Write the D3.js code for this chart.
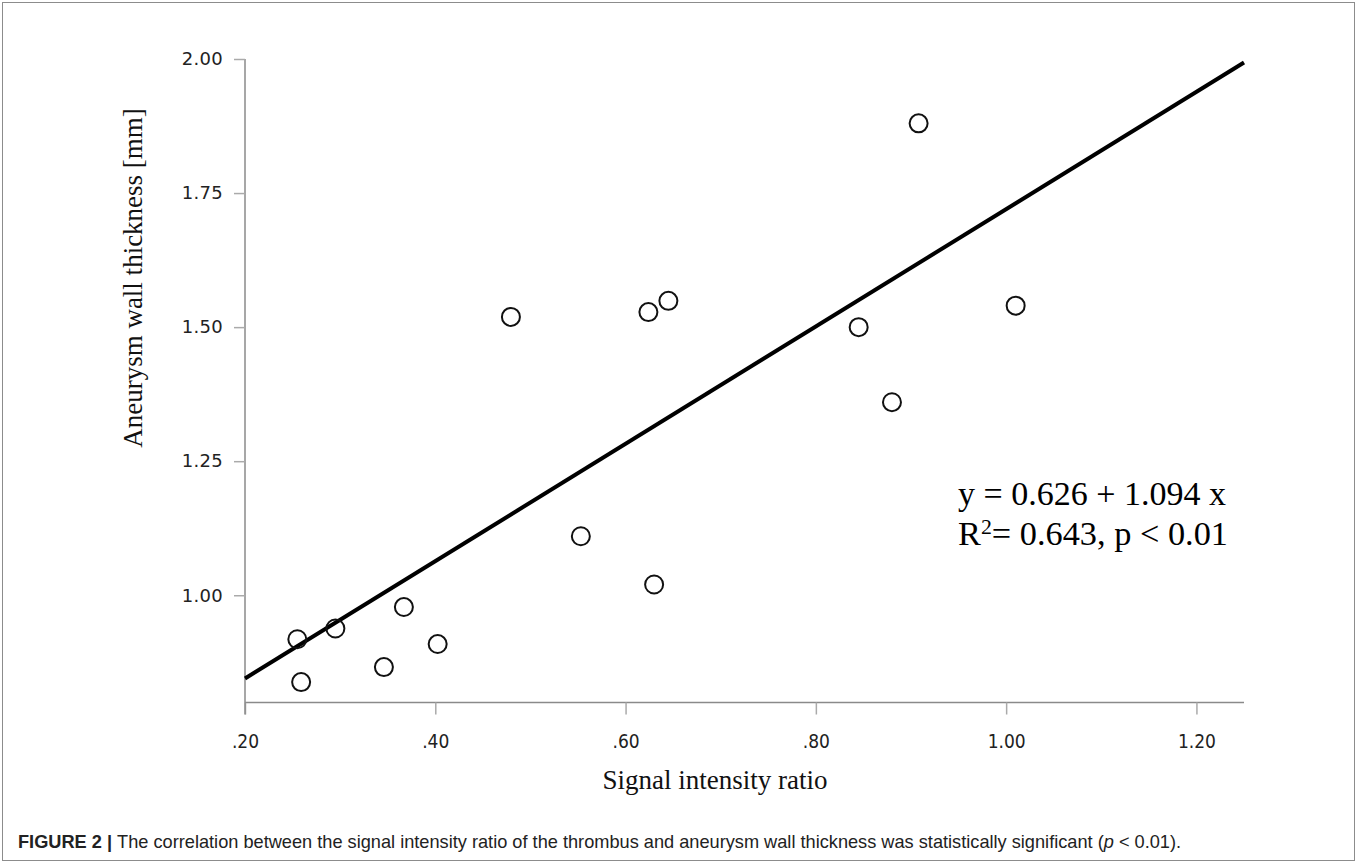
<!DOCTYPE html>
<html>
<head>
<meta charset="utf-8">
<script src="https://cdn.jsdelivr.net/npm/d3@7"></script>
<style>
  html, body { margin: 0; padding: 0; background: #fff; }
  svg { display: block; }
</style>
</head>
<body>
<svg id="fig" width="1358" height="866"></svg>
<script>
// Signal intensity ratio (x) vs aneurysm wall thickness in mm (y)
const signalRatio = [0.255, 0.259, 0.295, 0.346, 0.367, 0.4025, 0.4795, 0.553, 0.624, 0.630, 0.645, 0.845, 0.880, 0.908, 1.010];
const wallThickness = [0.918, 0.838, 0.938, 0.866, 0.978, 0.909, 1.519, 1.110, 1.528, 1.020, 1.549, 1.500, 1.360, 1.880, 1.540];

// Fitted regression: y = 0.626 + 1.094 x
const fitIntercept = 0.626;
const fitSlope = 1.094;

const xTicks = [0.2, 0.4, 0.6, 0.8, 1.0, 1.2];
const yTicks = [1.0, 1.25, 1.5, 1.75, 2.0];

const xTickFmt = v => (v < 1 ? d3.format(".2f")(v).replace(/^0/, "") : d3.format(".2f")(v));

const svg = d3.select("#fig");

// outer figure frame
svg.append("rect")
  .attr("x", 2.5).attr("y", 2.5)
  .attr("width", 1352).attr("height", 858)
  .attr("fill", "none").attr("stroke", "#8c8c8c").attr("stroke-width", 1);

const x = d3.scaleLinear().domain([0.2, 1.25]).range([245, 1244]);
const y = d3.scaleLinear().domain([0.8, 2.0]).range([702.5, 59]);

const axisColor = "#8a8a8a";

// x axis
const gx = svg.append("g")
  .attr("transform", `translate(0,${y(0.8)})`)
  .call(d3.axisBottom(x).tickValues(xTicks).tickFormat(xTickFmt).tickSize(12).tickPadding(20));
gx.select(".domain").attr("stroke", axisColor).attr("stroke-width", 1.5)
  .attr("d", `M${x(0.2)},0H${x(1.25)}`);
gx.selectAll(".tick line").attr("stroke", "#aaa").attr("stroke-width", 1.5);
gx.selectAll(".tick text")
  .attr("fill", "#222")
  .style("font-family", "'DejaVu Sans Condensed', 'DejaVu Sans', sans-serif")
  .style("font-stretch", "condensed")
  .style("font-size", "19px");

// y axis
const gy = svg.append("g")
  .attr("transform", `translate(${x(0.2)},0)`)
  .call(d3.axisLeft(y).tickValues(yTicks).tickFormat(d3.format(".2f")).tickSize(11).tickPadding(11));
gy.select(".domain").attr("stroke", axisColor).attr("stroke-width", 1.5)
  .attr("d", `M0,${y(0.8) + 12}V${y(2.0)}`);
gy.selectAll(".tick line").attr("stroke", "#aaa").attr("stroke-width", 1.5);
gy.selectAll(".tick text")
  .attr("fill", "#222")
  .style("font-family", "'DejaVu Sans', sans-serif")
  .style("font-size", "18px")
  .style("letter-spacing", "0.3px");

// regression line across the x range
const fitLine = d3.line().x(d => x(d)).y(d => y(fitIntercept + fitSlope * d));
svg.append("path")
  .datum([0.2, 1.25])
  .attr("d", fitLine)
  .attr("fill", "none")
  .attr("stroke", "#000")
  .attr("stroke-width", 4);

// observations as open circles
svg.append("g")
  .selectAll("circle")
  .data(signalRatio.map((v, i) => [v, wallThickness[i]]))
  .join("circle")
  .attr("cx", d => x(d[0]))
  .attr("cy", d => y(d[1]))
  .attr("r", 9)
  .attr("fill", "none")
  .attr("stroke", "#111")
  .attr("stroke-width", 2);

// axis titles
svg.append("text")
  .attr("x", 715).attr("y", 789)
  .attr("text-anchor", "middle")
  .style("font-family", "'Liberation Serif', 'Times New Roman', serif")
  .style("font-size", "27px")
  .attr("fill", "#111")
  .text("Signal intensity ratio");

svg.append("text")
  .attr("transform", "translate(142,278) rotate(-90)")
  .attr("text-anchor", "middle")
  .style("font-family", "'Liberation Serif', 'Times New Roman', serif")
  .style("font-size", "27px")
  .attr("fill", "#111")
  .text("Aneurysm wall thickness [mm]");

// regression annotation
const ann = svg.append("g")
  .style("font-family", "'Liberation Serif', 'Times New Roman', serif")
  .style("font-size", "33px")
  .attr("fill", "#000");
ann.append("text").attr("x", 958).attr("y", 505)
  .attr("textLength", 268).attr("lengthAdjust", "spacingAndGlyphs")
  .text("y = 0.626 + 1.094 x");
const r2 = ann.append("text").attr("x", 958).attr("y", 545)
  .attr("textLength", 270).attr("lengthAdjust", "spacingAndGlyphs");
r2.append("tspan").text("R");
r2.append("tspan").attr("dy", -11).style("font-size", "21px").text("2");
r2.append("tspan").attr("dy", 11).text("= 0.643, p < 0.01");

// caption
const cap = svg.append("text")
  .attr("x", 18).attr("y", 848)
  .style("font-family", "'Liberation Sans Narrow', 'Liberation Sans', Arial, sans-serif")
  .style("font-size", "18.2px")
  .attr("fill", "#222");
cap.append("tspan").style("font-weight", "bold").text("FIGURE 2 | ");
cap.append("tspan").text("The correlation between the signal intensity ratio of the thrombus and aneurysm wall thickness was statistically significant (");
cap.append("tspan").style("font-style", "italic").text("p");
cap.append("tspan").text(" < 0.01).");
</script>
</body>
</html>
